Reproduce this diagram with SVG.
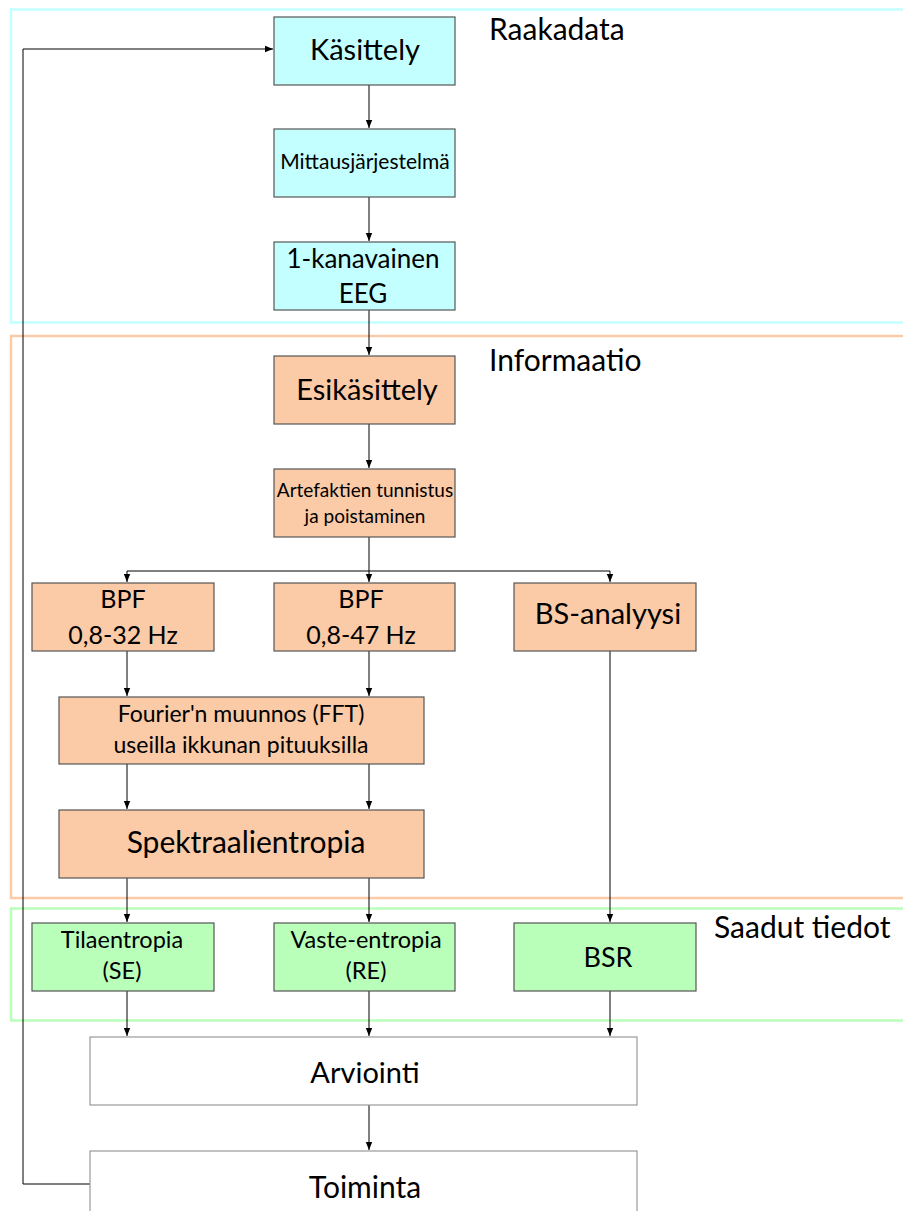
<svg xmlns="http://www.w3.org/2000/svg" width="903" height="1211" viewBox="0 0 903 1211">
<defs>
<style>
.grp{fill:none;stroke-width:2.5}
.box{stroke:#555;stroke-width:1.2}
.cy{fill:#C4FFFF}
.or{fill:#FBCAA6}
.gr{fill:#B9FFB9}
.wh{fill:#fff;stroke:#999}
text{font-family:Lato,"Liberation Sans",sans-serif;fill:#000;text-anchor:middle}
.lbl{text-anchor:start;font-size:30px}
.con{fill:none;stroke:#000;stroke-width:1}
</style>
<marker id="ah" viewBox="0 0 10 10" refX="10" refY="5" markerWidth="8" markerHeight="8" markerUnits="userSpaceOnUse" orient="auto">
<path d="M0,1 L10,5 L0,9 z" fill="#000"/>
</marker>
</defs>
<rect width="903" height="1211" fill="#fff"/>
<g id="groups">
<rect id="g-raakadata" class="grp" x="11" y="9.5" width="905" height="313" stroke="#C4FFFF"/>
<rect id="g-informaatio" class="grp" x="11" y="336" width="905" height="562" stroke="#FBCAA6"/>
<rect id="g-saadut" class="grp" x="11" y="908.5" width="905" height="112" stroke="#B9FFB9"/>
<text class="lbl" x="489" y="40">Raakadata</text>
<text class="lbl" x="489" y="371">Informaatio</text>
<text class="lbl" x="714" y="938">Saadut tiedot</text>
</g>
<g id="connectors">
<path class="con" d="M90,1184 H23 V49 H273" stroke-width="1.5" marker-end="url(#ah)"/>
<path class="con" d="M369,85 V128" marker-end="url(#ah)"/>
<path class="con" d="M369,197 V241" marker-end="url(#ah)"/>
<path class="con" d="M369,310 V355" marker-end="url(#ah)"/>
<path class="con" d="M369,424 V468" marker-end="url(#ah)"/>
<path class="con" d="M369,537 V582" marker-end="url(#ah)"/>
<path class="con" d="M127,571 H610"/>
<path class="con" d="M127,571 V582" marker-end="url(#ah)"/>
<path class="con" d="M610,571 V582" marker-end="url(#ah)"/>
<path class="con" d="M127,651 V696" marker-end="url(#ah)"/>
<path class="con" d="M369,651 V696" marker-end="url(#ah)"/>
<path class="con" d="M127,764 V809" marker-end="url(#ah)"/>
<path class="con" d="M369,764 V809" marker-end="url(#ah)"/>
<path class="con" d="M127,878 V922" marker-end="url(#ah)"/>
<path class="con" d="M369,878 V922" marker-end="url(#ah)"/>
<path class="con" d="M610,651 V922" marker-end="url(#ah)"/>
<path class="con" d="M127,991 V1036" marker-end="url(#ah)"/>
<path class="con" d="M369,991 V1036" marker-end="url(#ah)"/>
<path class="con" d="M610,991 V1036" marker-end="url(#ah)"/>
<path class="con" d="M369,1105 V1150" marker-end="url(#ah)"/>
</g>
<g id="n-kasittely"><rect class="box cy" x="274" y="17" width="181" height="68"/><text x="365" y="60" font-size="29">Käsittely</text></g>
<g id="n-mittaus"><rect class="box cy" x="274" y="129" width="181" height="68"/><text x="365" y="169" font-size="21">Mittausjärjestelmä</text></g>
<g id="n-eeg"><rect class="box cy" x="274" y="242" width="181" height="68"/><text x="363" y="268" font-size="26">1-kanavainen</text><text x="363" y="303" font-size="26">EEG</text></g>
<g id="n-esikasittely"><rect class="box or" x="274" y="356" width="181" height="68"/><text x="367" y="400" font-size="29">Esikäsittely</text></g>
<g id="n-artefaktien"><rect class="box or" x="274" y="469" width="181" height="68"/><text x="365" y="497" font-size="19">Artefaktien tunnistus</text><text x="365" y="523" font-size="19">ja poistaminen</text></g>
<g id="n-bpf1"><rect class="box or" x="32" y="583" width="182" height="68"/><text x="123" y="608" font-size="25">BPF</text><text x="123" y="644" font-size="25">0,8-32 Hz</text></g>
<g id="n-bpf2"><rect class="box or" x="274" y="583" width="181" height="68"/><text x="361" y="608" font-size="25">BPF</text><text x="361" y="644" font-size="25">0,8-47 Hz</text></g>
<g id="n-bs"><rect class="box or" x="514" y="583" width="182" height="68"/><text x="608" y="624" font-size="29">BS-analyysi</text></g>
<g id="n-fft"><rect class="box or" x="59" y="697" width="365" height="67"/><text x="241" y="722" font-size="23">Fourier'n muunnos (FFT)</text><text x="241" y="753" font-size="23">useilla ikkunan pituuksilla</text></g>
<g id="n-spektraali"><rect class="box or" x="59" y="810" width="365" height="68"/><text x="246" y="853" font-size="30">Spektraalientropia</text></g>
<g id="n-tila"><rect class="box gr" x="32" y="923" width="182" height="68"/><text x="122" y="948" font-size="23.5">Tilaentropia</text><text x="122" y="979" font-size="23.5">(SE)</text></g>
<g id="n-vaste"><rect class="box gr" x="274" y="923" width="181" height="68"/><text x="366" y="948" font-size="23.5">Vaste-entropia</text><text x="366" y="979" font-size="23.5">(RE)</text></g>
<g id="n-bsr"><rect class="box gr" x="514" y="923" width="182" height="68"/><text x="608" y="967" font-size="27">BSR</text></g>
<g id="n-arviointi"><rect class="box wh" x="90" y="1037" width="547" height="68"/><text x="365" y="1083" font-size="29">Arviointi</text></g>
<g id="n-toiminta"><rect class="box wh" x="90" y="1151" width="547" height="80"/><text x="365" y="1198" font-size="30">Toiminta</text></g>
</svg>
